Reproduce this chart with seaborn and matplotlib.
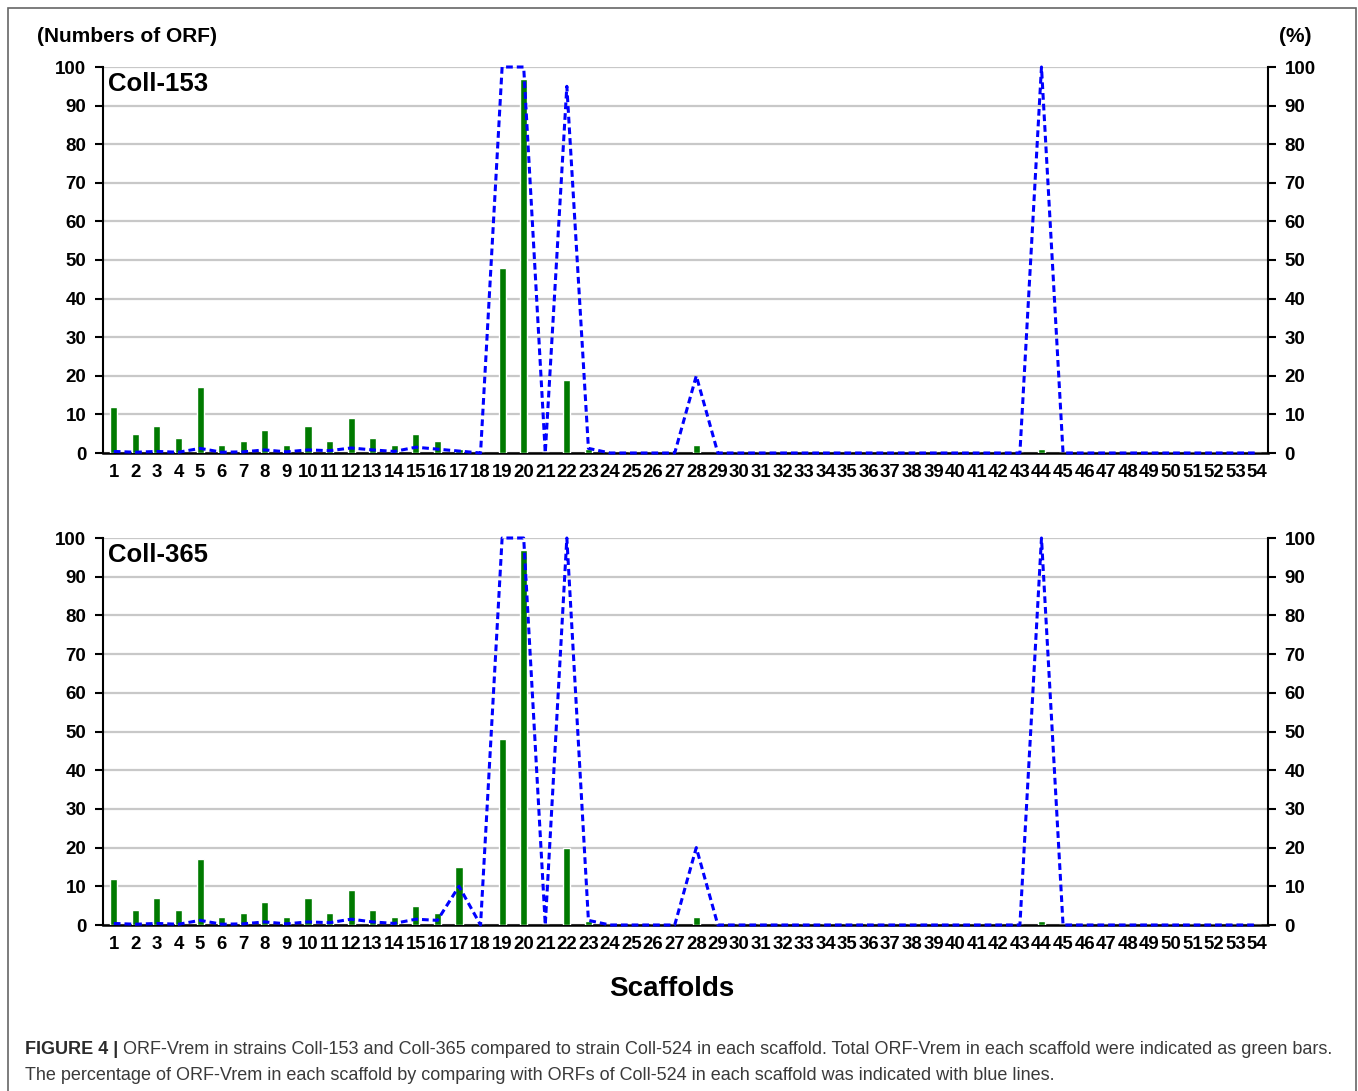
import numpy as np
import pandas as pd
import matplotlib
matplotlib.use("Agg")
import matplotlib.pyplot as plt
import seaborn as sns
from matplotlib.patches import Rectangle

scaffolds = [str(i) for i in range(1, 55)]

# Coll-153
orf_153 = [12, 5, 7, 4, 17, 2, 3, 6, 2, 7, 3, 9, 4, 2, 5, 3, 1, 0, 48, 97,
           0, 19, 1, 0, 0, 0, 0, 2, 0, 0, 0, 0, 0, 0, 0, 0, 0, 0, 0, 0,
           0, 0, 0, 1, 0, 0, 0, 0, 0, 0, 0, 0, 0, 0]
pct_153 = [0.4, 0.2, 0.4, 0.2, 1.2, 0.2, 0.3, 0.8, 0.3, 0.8, 0.6, 1.3, 0.8, 0.4, 1.5, 1.0, 0.5, 0, 100, 100,
           0, 95, 1.2, 0, 0, 0, 0, 20, 0, 0, 0, 0, 0, 0, 0, 0, 0, 0, 0, 0,
           0, 0, 0, 100, 0, 0, 0, 0, 0, 0, 0, 0, 0, 0]

# Coll-365
orf_365 = [12, 4, 7, 4, 17, 2, 3, 6, 2, 7, 3, 9, 4, 2, 5, 3, 15, 0, 48, 97,
           0, 20, 1, 0, 0, 0, 0, 2, 0, 0, 0, 0, 0, 0, 0, 0, 0, 0, 0, 0,
           0, 0, 0, 1, 0, 0, 0, 0, 0, 0, 0, 0, 0, 0]
pct_365 = [0.4, 0.2, 0.4, 0.2, 1.2, 0.2, 0.3, 0.8, 0.3, 0.8, 0.6, 1.5, 0.8, 0.4, 1.5, 1.2, 10, 0, 100, 100,
           0, 100, 1.2, 0, 0, 0, 0, 20, 0, 0, 0, 0, 0, 0, 0, 0, 0, 0, 0, 0,
           0, 0, 0, 100, 0, 0, 0, 0, 0, 0, 0, 0, 0, 0]

panels = [("Coll-153", orf_153, pct_153), ("Coll-365", orf_365, pct_365)]
yticks = list(range(0, 101, 10))

sns.set_theme(style="white")
plt.rcParams['font.family'] = ['Liberation Sans', 'DejaVu Sans']
plt.rcParams['text.color'] = 'black'
plt.rcParams['axes.labelcolor'] = 'black'
plt.rcParams['xtick.color'] = 'black'
plt.rcParams['ytick.color'] = 'black'

fig = plt.figure(figsize=(13.58, 10.91), dpi=100)
fig.patch.set_facecolor("white")
fig.patches.append(Rectangle((8/1358, -0.01), 1348/1358, 1.01 - 8/1091,
                             transform=fig.transFigure, fill=False,
                             edgecolor="#666666", linewidth=1.2))

axes_pos = [[103/1358, 1-453/1091, 1165/1358, 386/1091],
            [103/1358, 1-925/1091, 1165/1358, 387/1091]]

green = "#007A00"
blue = "#0000FF"

for pos, (name, orf, pct) in zip(axes_pos, panels):
    ax = fig.add_axes(pos)
    df = pd.DataFrame({"Scaffold": scaffolds, "ORF": orf, "Pct": pct})
    sns.barplot(data=df, x="Scaffold", y="ORF", order=scaffolds, color=green,
                width=0.33, saturation=1, ax=ax, zorder=3)
    ax.set_ylim(0, 100)
    ax.set_xlim(-0.5, len(scaffolds) - 0.5)
    ax.set_yticks(yticks)
    ax.yaxis.grid(True, color="#C8C8C8", linewidth=1.6, zorder=0)
    ax.set_axisbelow(True)
    ax.set_xlabel("")
    ax.set_ylabel("")
    ax.spines["top"].set_visible(False)
    ax.spines["right"].set_visible(False)
    ax.spines["left"].set_color("black")
    ax.spines["left"].set_linewidth(1.5)
    ax.spines["bottom"].set_color("black")
    ax.spines["bottom"].set_linewidth(1.8)
    ax.tick_params(axis="y", direction="out", length=6, width=1.5, color="black",
                   left=True, labelsize=13.5, pad=6, labelcolor="black")
    ax.tick_params(axis="x", length=0, labelsize=13.4, pad=8, labelcolor="black")
    for lab in ax.get_yticklabels() + ax.get_xticklabels():
        lab.set_fontweight("bold")
    ax.text(0.004, 0.957, name, transform=ax.transAxes, fontsize=18.5,
            fontweight="bold", ha="left", va="center", zorder=5, color="black")

    ax2 = ax.twinx()
    sns.lineplot(x=np.arange(len(scaffolds)), y=pct, ax=ax2, color=blue,
                 linewidth=2.2, linestyle=(0, (2.2, 1.3)), clip_on=False, zorder=4)
    ax2.set_ylim(0, 100)
    ax2.set_yticks(yticks)
    ax2.set_xlim(-0.5, len(scaffolds) - 0.5)
    ax2.grid(False)
    for s in ["top", "left", "bottom"]:
        ax2.spines[s].set_visible(False)
    ax2.spines["right"].set_visible(True)
    ax2.spines["right"].set_color("black")
    ax2.spines["right"].set_linewidth(1.5)
    ax2.tick_params(axis="y", direction="out", length=6, width=1.5, color="black",
                    right=True, labelsize=13.5, pad=6, labelcolor="black")
    for lab in ax2.get_yticklabels():
        lab.set_fontweight("bold")
    ax2.set_ylabel("")

fig.text(37/1358, 1-36/1091, "(Numbers of ORF)", fontsize=15, fontweight="bold",
         ha="left", va="center", color="black")
fig.text(1312/1358, 1-36/1091, "(%)", fontsize=15, fontweight="bold",
         ha="right", va="center", color="black")
fig.text(672/1358, 1-989/1091, "Scaffolds", fontsize=20, fontweight="bold",
         ha="center", va="center", color="black")

cap1_bold = "FIGURE 4 | "
cap1 = ("ORF-Vrem in strains Coll-153 and Coll-365 compared to strain Coll-524 in each scaffold. "
        "Total ORF-Vrem in each scaffold were indicated as green bars.")
cap2 = ("The percentage of ORF-Vrem in each scaffold by comparing with ORFs of Coll-524 "
        "in each scaffold was indicated with blue lines.")
t = fig.text(25/1358, 1-1050/1091, cap1_bold, fontsize=13, fontweight="bold",
             color="#2b2b2b", ha="left", va="center")
fig.canvas.draw()
bb = t.get_window_extent()
fig.text(bb.x1/1358, 1-1050/1091, cap1, fontsize=13, color="#3a3a3a",
         ha="left", va="center")
fig.text(25/1358, 1-1075/1091, cap2, fontsize=13, color="#3a3a3a",
         ha="left", va="center")

fig.savefig("out.png", dpi=100)
